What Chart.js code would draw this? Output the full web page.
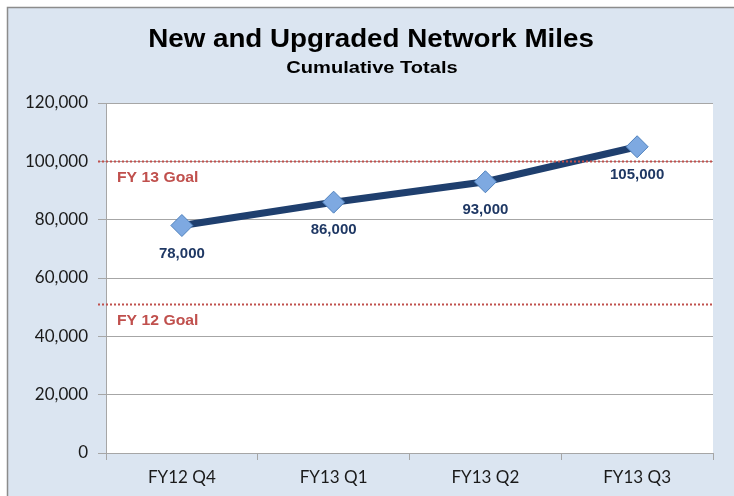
<!DOCTYPE html>
<html>
<head>
<meta charset="utf-8">
<script src="https://cdn.jsdelivr.net/npm/chart.js@4/dist/chart.umd.min.js"></script>
<style>
  html, body { margin: 0; padding: 0; background: #ffffff; }
  #wrap { width: 734px; height: 496px; }
</style>
</head>
<body>
<div id="wrap"><canvas id="chart" width="734" height="496"></canvas></div>
<script>
// Données du graphique
const quarters = ['FY12 Q4', 'FY13 Q1', 'FY13 Q2', 'FY13 Q3'];
const miles = [78000, 86000, 93000, 105000];
const goalValues = [100000, 51000];
const goalLabels = ['FY 13 Goal', 'FY 12 Goal'];
const yTicks = [0, 20000, 40000, 60000, 80000, 100000, 120000];

const WIDTH = 734;
const HEIGHT = 496;

// Texte légèrement étiré horizontalement, comme dans l'original
const stretchText = (ctx, text, x, y, sx) => {
  ctx.save();
  ctx.translate(x, y);
  ctx.scale(sx, 1);
  ctx.fillText(text, 0, 0);
  ctx.restore();
};

// Fond bleu clair avec bordure grise
const background = {
  id: 'background',
  beforeDraw(chart) {
    const { ctx } = chart;
    ctx.save();
    ctx.fillStyle = '#ffffff';
    ctx.fillRect(0, 0, WIDTH, HEIGHT);
    ctx.fillStyle = '#dbe5f1';
    ctx.fillRect(7, 7, WIDTH, HEIGHT);
    ctx.strokeStyle = '#8c8c8c';
    ctx.lineWidth = 1.5;
    ctx.beginPath();
    ctx.moveTo(7.5, HEIGHT);
    ctx.lineTo(7.5, 7.5);
    ctx.lineTo(WIDTH, 7.5);
    ctx.stroke();
    // Zone du graphique en blanc
    const a = chart.chartArea;
    ctx.fillStyle = '#ffffff';
    ctx.fillRect(a.left, a.top, a.right - a.left, a.bottom - a.top);
    // Titres
    ctx.fillStyle = '#000000';
    ctx.textAlign = 'center';
    ctx.textBaseline = 'middle';
    ctx.font = 'bold 25px "Liberation Sans", Arial, sans-serif';
    stretchText(ctx, 'New and Upgraded Network Miles', 371, 40, 1.11);
    ctx.font = 'bold 17px "Liberation Sans", Arial, sans-serif';
    stretchText(ctx, 'Cumulative Totals', 372, 68, 1.18);
    ctx.restore();
  },
};

// Lignes d'objectif en pointillés rouges
const goalLines = {
  id: 'goalLines',
  afterDatasetsDraw(chart) {
    const { ctx, chartArea } = chart;
    const y = chart.scales.y;
    ctx.save();
    goalValues.forEach((v, i) => {
      const py = Math.round(y.getPixelForValue(v)) + 0.5;
      ctx.strokeStyle = '#c0504d';
      ctx.lineWidth = 2;
      ctx.setLineDash([2, 2]);
      ctx.beginPath();
      ctx.moveTo(chartArea.left - 8, py);
      ctx.lineTo(chartArea.right, py);
      ctx.stroke();
      ctx.setLineDash([]);
      ctx.fillStyle = '#c0504d';
      ctx.font = 'bold 15px "Liberation Sans", Arial, sans-serif';
      ctx.textAlign = 'left';
      ctx.textBaseline = 'middle';
      stretchText(ctx, goalLabels[i], chartArea.left + 11, py + 16, 1.05);
    });
    ctx.restore();
  },
};

// Étiquettes des valeurs sous les points
const valueLabels = {
  id: 'valueLabels',
  afterDatasetsDraw(chart) {
    const { ctx } = chart;
    const meta = chart.getDatasetMeta(0);
    ctx.save();
    ctx.fillStyle = '#1f3864';
    ctx.font = 'bold 15px "Liberation Sans", Arial, sans-serif';
    ctx.textAlign = 'center';
    ctx.textBaseline = 'middle';
    meta.data.forEach((pt, i) => {
      ctx.fillText(miles[i].toLocaleString('en-US'), pt.x, pt.y + 28);
    });
    ctx.restore();
  },
};

const configuration = {
  type: 'line',
  data: {
    labels: quarters,
    datasets: [
      {
        data: miles,
        borderColor: '#1f3f6e',
        borderWidth: 7,
        tension: 0,
        pointStyle: 'rectRot',
        pointRadius: 11,
        pointHoverRadius: 11,
        pointBackgroundColor: '#7ea9e1',
        pointBorderColor: '#4f81bd',
        pointBorderWidth: 1,
      },
    ],
  },
  options: {
    responsive: false,
    animation: false,
    events: [],
    plugins: {
      legend: { display: false },
      title: { display: false },
      tooltip: { enabled: false },
    },
    layout: {
      padding: { top: 103, right: 21, left: 0, bottom: 0 },
    },
    scales: {
      x: {
        offset: true,
        grid: {
          offset: true,
          drawOnChartArea: false,
          drawTicks: true,
          tickLength: 7,
          color: '#a6a6a6',
        },
        border: { color: '#a6a6a6', width: 1 },
        ticks: {
          color: '#1a1a1a',
          padding: 7,
          font: { family: 'Lato', size: 17 },
        },
        afterFit(scale) { scale.height = 43; },
      },
      y: {
        min: 0,
        max: 120000,
        afterBuildTicks(scale) { scale.ticks = yTicks.map((v) => ({ value: v })); },
        grid: {
          color: '#a6a6a6',
          tickLength: 8,
          drawTicks: true,
        },
        border: { color: '#a6a6a6', width: 1 },
        ticks: {
          color: '#1a1a1a',
          padding: 10,
          font: { family: 'Lato', size: 17 },
          callback: (v) => v.toLocaleString('en-US'),
        },
        afterFit(scale) { scale.width = 106; },
      },
    },
  },
  plugins: [background, goalLines, valueLabels],
};

new Chart(document.getElementById('chart').getContext('2d'), configuration);
</script>
</body>
</html>
